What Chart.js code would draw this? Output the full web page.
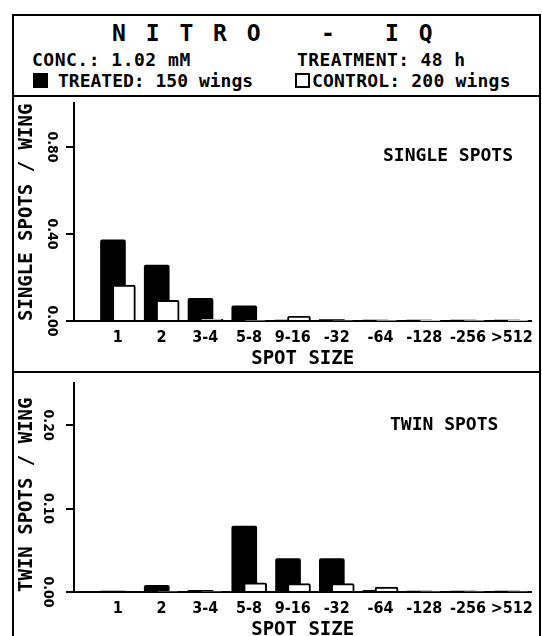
<!DOCTYPE html>
<html>
<head>
<meta charset="utf-8">
<script src="https://cdn.jsdelivr.net/npm/chart.js@4/dist/chart.umd.min.js"></script>
<style>
  html, body { margin: 0; padding: 0; background: #fff; }
  body { width: 542px; height: 636px; overflow: hidden; position: relative; font-family: "DejaVu Sans Mono", monospace; color: #000; }
  .abs { position: absolute; white-space: nowrap; line-height: 1; }
  .b { font-weight: bold; }
  .hline { position: absolute; height: 2px; background: #000; left: 12px; width: 529px; }
  .vline { position: absolute; width: 2px; background: #000; top: 14px; height: 640px; }
  canvas { position: absolute; }
</style>
</head>
<body>
<div class="vline" style="left:12px"></div>
<div class="vline" style="left:539px"></div>
<div class="hline" style="top:14px"></div>
<div class="hline" style="top:95px"></div>
<div class="hline" style="top:371px"></div>

<div class="abs b" style="left:112px; top:22px; font-size:23px; letter-spacing:3px;">N I T R O</div>
<div class="abs b" style="left:321px; top:22px; font-size:23px;">-</div>
<div class="abs b" style="left:385px; top:22px; font-size:23px; letter-spacing:3px;">I Q</div>

<div class="abs b" style="left:32px; top:51px; font-size:18px; letter-spacing:0.5px;">CONC.: 1.02 mM</div>
<div class="abs b" style="left:297px; top:51px; font-size:18px; letter-spacing:0.4px;">TREATMENT: 48 h</div>
<div class="abs" style="left:33px; top:73px; width:15px; height:15px; background:#000;"></div>
<div class="abs b" style="left:58px; top:72px; font-size:18px;">TREATED: 150 wings</div>
<div class="abs" style="left:295px; top:73px; width:11px; height:11px; border:2px solid #000;"></div>
<div class="abs b" style="left:312px; top:72px; font-size:18px; letter-spacing:0.2px;">CONTROL: 200 wings</div>

<canvas id="c1" width="528" height="276" style="left:12px; top:96px;"></canvas>
<canvas id="c2" width="528" height="271" style="left:12px; top:372px;"></canvas>

<div class="abs b" style="left:383px; top:146px; font-size:18px;">SINGLE SPOTS</div>
<div class="abs b" style="left:390px; top:415px; font-size:18px;">TWIN SPOTS</div>

<script>
// ---- data ----
const CATEGORIES = ["1", "2", "3-4", "5-8", "9-16", "-32", "-64", "-128", "-256", ">512"];
const SINGLE_TREATED = [0.373, 0.257, 0.104, 0.070, 0.003, 0.006, 0.003, 0.002, 0.001, 0.001];
const SINGLE_CONTROL = [0.165, 0.095, 0.008, 0.003, 0.022, 0.004, 0.002, 0.001, 0.002, 0.001];
const TWIN_TREATED = [0.001, 0.008, 0.002, 0.079, 0.040, 0.040, 0.002, 0.001, 0.001, 0.001];
const TWIN_CONTROL = [0.000, 0.001, 0.001, 0.011, 0.010, 0.010, 0.006, 0.001, 0.001, 0.001];
const SINGLE_Y_TICKS = [0, 0.4, 0.8];
const TWIN_Y_TICKS = [0, 0.1, 0.2];

const MONO = "'DejaVu Sans Mono', monospace";
const COND = "'DejaVu Sans Condensed', 'Liberation Sans Narrow', 'DejaVu Sans', sans-serif";
const TREATED_SHIFT = -0.11;
const CONTROL_SHIFT = 0.14;

function makeChart(id, treated, control, yMax, yTicks, yTitle, padTop, tickPad) {
  const ctx = document.getElementById(id);
  return new Chart(ctx, {
    type: 'bar',
    data: {
      datasets: [
        {
          label: 'CONTROL',
          data: control.map((v, i) => ({ x: i + CONTROL_SHIFT, y: v })),
          backgroundColor: '#fff',
          borderColor: '#000',
          borderWidth: 2,
          barThickness: 23,
          grouped: false,
          borderRadius: 2,
          order: 0
        },
        {
          label: 'TREATED',
          data: treated.map((v, i) => ({ x: i + TREATED_SHIFT, y: v })),
          backgroundColor: '#000',
          borderColor: '#000',
          borderWidth: 0,
          barThickness: 25,
          grouped: false,
          borderRadius: 2,
          order: 1
        }
      ]
    },
    options: {
      responsive: false,
      animation: false,
      devicePixelRatio: 1,
      layout: { padding: { top: padTop, right: 5, bottom: 0, left: 0 } },
      plugins: { legend: { display: false }, tooltip: { enabled: false } },
      scales: {
        x: {
          type: 'linear',
          offset: false,
          min: -1,
          max: 9.45,
          grid: { display: false, drawTicks: false },
          border: { color: '#000', width: 2 },
          afterBuildTicks: s => { s.ticks = CATEGORIES.map((_, i) => ({ value: i })); },
          afterFit: s => { s.height = 51; },
          ticks: {
            autoSkip: false, maxRotation: 0, minRotation: 0, padding: 7,
            color: '#000',
            font: { family: COND, size: 16, weight: 'bold' },
            callback: v => CATEGORIES[v] ?? ''
          },
          title: {
            display: true, text: 'SPOT SIZE', color: '#000',
            font: { family: MONO, size: 19, weight: 'bold' },
            padding: { top: 0, bottom: 2 }
          }
        },
        y: {
          min: 0,
          max: yMax,
          grid: { drawOnChartArea: false, drawTicks: true, tickLength: 8, color: '#000', lineWidth: 2 },
          border: { color: '#000', width: 2 },
          afterBuildTicks: s => { s.ticks = yTicks.map(v => ({ value: v })); },
          afterFit: s => { s.width = 62; },
          ticks: {
            minRotation: -90, maxRotation: -90, crossAlign: 'center', padding: tickPad,
            color: '#000',
            font: { family: COND, size: 14, weight: 'bold' },
            callback: v => Number(v).toFixed(2)
          },
          title: {
            display: true, text: yTitle, color: '#000', align: 'start',
            font: { family: MONO, size: 19, weight: 'bold' },
            padding: { top: 4, bottom: 0 }
          }
        }
      }
    }
  });
}

makeChart('c1', SINGLE_TREATED, SINGLE_CONTROL, 1.0, SINGLE_Y_TICKS, 'SINGLE SPOTS / WING', 3, -1);
makeChart('c2', TWIN_TREATED, TWIN_CONTROL, 0.25, TWIN_Y_TICKS, 'TWIN SPOTS / WING', 6, 3);
</script>
</body>
</html>
